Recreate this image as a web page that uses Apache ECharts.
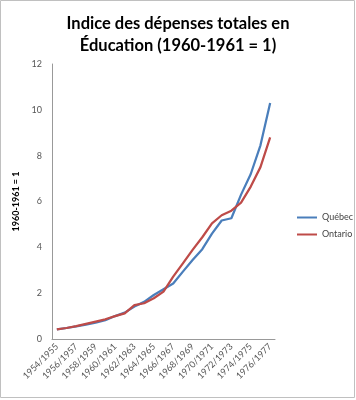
<!DOCTYPE html>
<html><head><meta charset="utf-8">
<script src="https://cdn.jsdelivr.net/npm/echarts@6/dist/echarts.min.js"></script>
<style>html,body{margin:0;padding:0;background:#fff}#c{width:356px;height:400px}</style>
</head><body><div id="c"></div>
<script>
const categories = ["1954/1955","1955/1956","1956/1957","1957/1958","1958/1959","1959/1960","1960/1961","1961/1962","1962/1963","1963/1964","1964/1965","1965/1966","1966/1967","1967/1968","1968/1969","1969/1970","1970/1971","1971/1972","1972/1973","1973/1974","1974/1975","1975/1976","1976/1977"];
const quebec = [0.42,0.48,0.55,0.63,0.71,0.82,1.0,1.15,1.42,1.62,1.92,2.17,2.42,2.94,3.45,3.92,4.6,5.17,5.27,6.3,7.2,8.45,10.3];
const ontario = [0.42,0.48,0.56,0.66,0.76,0.86,1.0,1.12,1.48,1.56,1.78,2.07,2.72,3.3,3.89,4.44,5.05,5.4,5.6,5.95,6.65,7.5,8.8];
const yTicks = {min:0, max:12, interval:2};
const chart = echarts.init(document.getElementById('c'));
const font = 'Lato, "Open Sans", sans-serif';
chart.setOption({
  animation:false,
  graphic:[{type:'rect',shape:{x:0.5,y:0.5,width:354,height:397},style:{fill:'none',stroke:'#c0c0c0',lineWidth:1}}],
  title:{text:'Indice des dépenses totales en\nÉducation (1960-1961 = 1)',left:'center',top:8,
    textStyle:{fontFamily:font,fontWeight:'bold',fontSize:16.5,lineHeight:22,color:'#000'}},
  legend:{orient:'vertical',left:292,top:208,itemWidth:20,itemHeight:2,itemGap:8,icon:'rect',
    textStyle:{fontFamily:font,fontSize:9,color:'#444'},data:['Québec','Ontario']},
  grid:{left:52,right:81,top:64,bottom:61},
  xAxis:{type:'category',data:categories,boundaryGap:true,
    axisLine:{lineStyle:{color:'#999'}},axisTick:{show:false},
    axisLabel:{interval:1,rotate:45,fontFamily:font,fontSize:9,color:'#555',margin:6}},
  yAxis:{type:'value',min:yTicks.min,max:yTicks.max,interval:yTicks.interval,
    name:'1960-1961 = 1',nameLocation:'middle',nameGap:30,nameRotate:90,
    nameTextStyle:{fontFamily:font,fontWeight:'bold',fontSize:9,color:'#000'},
    axisLine:{show:true,lineStyle:{color:'#999'}},axisTick:{show:false},splitLine:{show:false},
    axisLabel:{fontFamily:font,fontSize:9,color:'#555',margin:10}},
  series:[
    {name:'Québec',type:'line',data:quebec,symbol:'none',lineStyle:{width:2.25,color:'#4A7EBB'},itemStyle:{color:'#4A7EBB'}},
    {name:'Ontario',type:'line',data:ontario,symbol:'none',lineStyle:{width:2.25,color:'#BE4B48'},itemStyle:{color:'#BE4B48'}}
  ]
});
</script></body></html>
